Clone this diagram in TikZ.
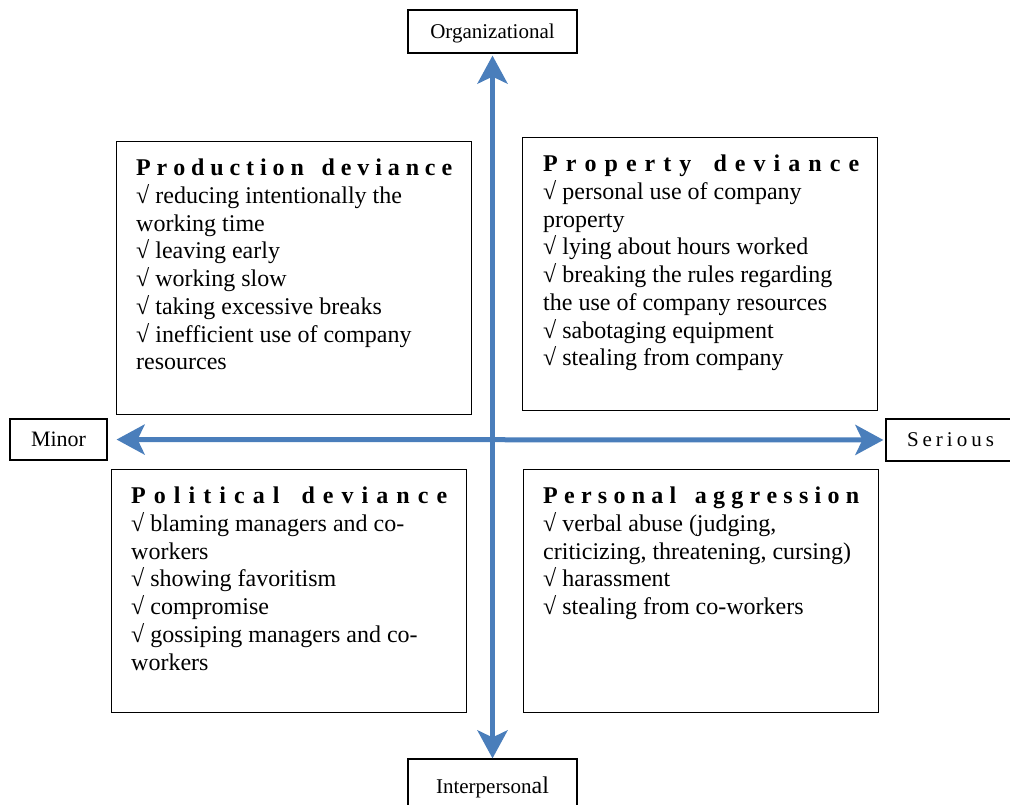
\documentclass[tikz,border=0pt]{standalone}
\usepackage{fontspec}
\setmainfont{Liberation Serif}
\newfontfamily\wideface[LetterSpace=19]{Liberation Serif}
\usepackage{tikz}
\usetikzlibrary{arrows.meta,positioning}
\definecolor{axisblue}{RGB}{74,126,187}
% heading spread letter by letter over the box width
\ExplSyntaxOn
\NewDocumentCommand\spreadhead{mm}{
  \makebox[316pt][s]{\bfseries
    \tl_map_inline:nn {#1}{##1\hfil}\ \tl_map_inline:nn {#2}{\hfil##1}}}
\ExplSyntaxOff

\begin{document}
\begin{tikzpicture}[x=1pt,y=-1pt,
    axis/.style={{Stealth[length=28pt,width=30pt,inset=7pt]}-{Stealth[length=28pt,width=30pt,inset=7pt]},
      line width=5pt,draw=axisblue},
    tag/.style={draw,line width=1.2pt,inner sep=0pt,font=\fontsize{21}{24}\selectfont},
    box/.style={draw,line width=1.2pt,inner sep=0pt,minimum width=355pt},
    list/.style={inner sep=0pt,align=left,font=\fontsize{24}{27.7}\selectfont}]
    \useasboundingbox (0,0) rectangle (1010,805);
    % axis labels
    \node[tag,minimum width=169pt,minimum height=43pt,text depth=0pt] (org) at (492.5,31.5) {Organizational};
    \node[tag,minimum width=169pt,minimum height=56pt] (inter) at (492.5,787) {Interperson{\fontsize{24}{24}\selectfont al}};
    \node[tag,minimum width=97pt,minimum height=41pt,font=\fontsize{22}{24}\selectfont] (minor) at (58.5,439.5) {Minor};
    \node[tag,minimum width=140pt,minimum height=42pt,text width=120pt,align=left] (serious) at (956,440) {\hspace*{11pt}\wideface Serious};
    % quadrants
    \node[box,minimum height=273pt,anchor=north west] (prod) at (116,141) {};
    \node[box,minimum height=273pt,anchor=north west] (prop) at (522,137) {};
    \node[box,minimum height=243pt,anchor=north west] (pol) at (111,469) {};
    \node[box,minimum height=243pt,anchor=north west] (pers) at (523,469) {};
    \node[list,below right=18pt and 20pt of prod.north west] (prodtxt) {%
      \spreadhead{Production}{deviance}\\
      √ reducing intentionally the\\ working time\\ √ leaving early\\
      √ working slow\\ √ taking excessive breaks\\
      √ inefficient use of company\\ resources};
    \node[list,below right=18pt and 21pt of prop.north west] (proptxt) {%
      \spreadhead{Property}{deviance}\\
      √ personal use of company\\ property\\ √ lying about hours worked\\
      √ breaking the rules regarding\\ the use of company resources\\
      √ sabotaging equipment\\ √ stealing from company};
    \node[list,below right=18pt and 20pt of pol.north west] (poltxt) {%
      \spreadhead{Political}{deviance}\\
      √ blaming managers and co-\\ workers\\ √ showing favoritism\\
      √ compromise\\ √ gossiping managers and co-\\ workers};
    \node[list,below right=18pt and 20pt of pers.north west] (perstxt) {%
      \spreadhead{Personal}{aggression}\\
      √ verbal abuse (judging,\\ criticizing, threatening, cursing)\\
      √ harassment\\ √ stealing from co-workers};
    % axes
    \draw[axis,shorten <=9pt,shorten >=2pt] (minor) -- (serious);
    \draw[axis,shorten <=2pt] (org) -- (inter);
\end{tikzpicture}
\end{document}
